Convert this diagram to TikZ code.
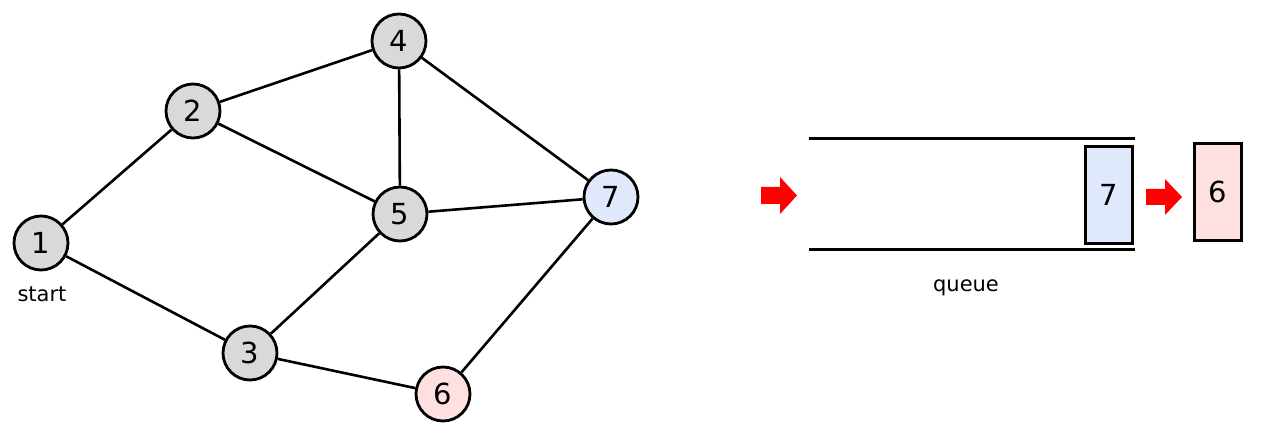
\documentclass[tikz,border=0pt]{standalone}
\usepackage{fontspec}
\setmainfont{DejaVu Sans}
\definecolor{vgray}{HTML}{D9D9D9}
\definecolor{vblue}{HTML}{E0E8FC}
\definecolor{vpink}{HTML}{FFE0E0}
\begin{document}
\begin{tikzpicture}[x=1pt,y=-1pt,
  vtx/.style={circle,draw=black,line width=2.8pt,fill=vgray,minimum size=54pt,inner sep=0pt,font=\fontsize{29}{30}\selectfont},
  edge/.style={line width=2.6pt},
  qbox/.style={rectangle,draw=black,line width=3pt,minimum width=47pt,minimum height=97pt,inner sep=0pt,font=\fontsize{29}{30}\selectfont},
  lbl/.style={font=\fontsize{21}{22}\selectfont,inner sep=0pt},
  redarrow/.style={fill=red,draw=none}
]
\useasboundingbox (0,0) rectangle (1264,435);
\node[vtx] (n1) at (41,243) {1};
\node[vtx] (n2) at (193,111) {2};
\node[vtx] (n4) at (399,41) {4};
\node[vtx] (n5) at (400,214) {5};
\node[vtx,fill=vblue] (n7) at (611,197) {7};
\node[vtx] (n3) at (250,353) {3};
\node[vtx,fill=vpink] (n6) at (443,394) {6};
\node[lbl] (start) at (42,294) {start};
\draw[edge] (n1) -- (n2);
\draw[edge] (n1) -- (n3);
\draw[edge] (n2) -- (n4);
\draw[edge] (n2) -- (n5);
\draw[edge] (n4) -- (n5);
\draw[edge] (n4) -- (n7);
\draw[edge] (n5) -- (n7);
\draw[edge] (n5) -- (n3);
\draw[edge] (n3) -- (n6);
\draw[edge] (n6) -- (n7);
% queue
\coordinate (qtl) at (809,139);
\coordinate (qtr) at (1135,139);
\coordinate (qbl) at (809,250);
\coordinate (qbr) at (1135,250);
\draw[line width=3pt] (qtl) -- (qtr);
\draw[line width=3pt] (qbl) -- (qbr);
\node[qbox,fill=vblue] (q7) at (1109,195) {7};
\node[qbox,fill=vpink] (q6) at (1218,192) {6};
\node[lbl] (qlabel) at (966,288) {queue};
\fill[redarrow] (761,187) -- (780,187) -- (780,177) -- (797,195.5) -- (780,214) -- (780,204) -- (761,204) -- cycle;
\fill[redarrow] (1146,189) -- (1165,189) -- (1165,179) -- (1182,197) -- (1165,215) -- (1165,205) -- (1146,205) -- cycle;
\end{tikzpicture}
\end{document}
